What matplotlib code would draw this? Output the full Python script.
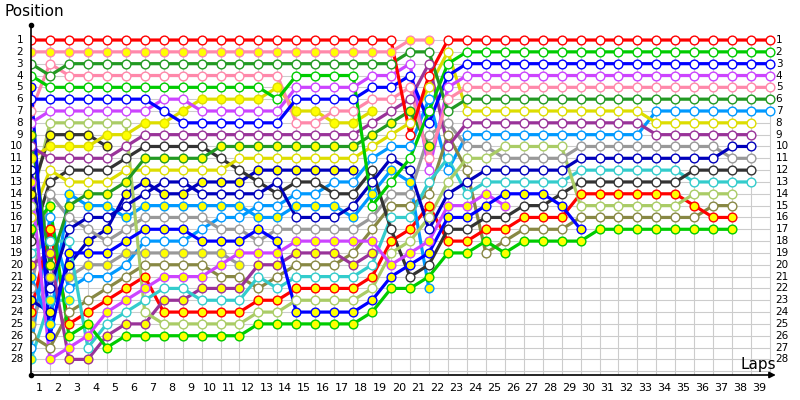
import matplotlib
matplotlib.use("Agg")
import matplotlib.pyplot as plt

# positions per lap (lap 0 = grid), series stop when the car retires / is lapped
red = [1,1,1,1,1,1,1,1,1,1, 1,1,1,1,1,1,1,1,1,1, 9,4,1,1,1,1,1,1,1,1, 1,1,1,1,1,1,1,1,1,1]
pink_y = [2,2,2,2,2,2,2,2,2,2, 2,2,2,2,2,2,2,2,2,2, 1,1]
dkgreen = [3,4,3,3,3,3,3,3,3,3, 3,3,3,3,3,3,3,3,3,3, 2,2,7,6,6,6,6,6,6,6, 6,6,6,6,6,6,6,6,6,6]
brgreen = [4,5,5,5,5,5,5,5,5,5, 5,5,5,6,4,4,4,4,15,13, 11,7,3,2,2,2,2,2,2,2, 2,2,2,2,2,2,2,2,2,2]
blue_y = [5,26,19,19,19,18,17,17,17,18, 18,18,17,18,24,24,24,24,23,21, 20,19,16,16,15,14,14,14,15,17]
blue = [6,6,6,6,6,6,6,7,8,8, 8,8,8,8,6,6,6,6,5,5, 4,8,4,3,3,3,3,3,3,3, 3,3,3,3,3,3,3,3,3,3]
pink = [7,3,4,4,4,4,4,4,4,4, 4,4,4,4,8,8,7,7,6,6, 5,11,6,5,5,5,5,5,5,5, 5,5,5,5,5,5,5,5,5,5]
violet = [8,7,7,7,7,7,7,6,6,7, 7,7,7,7,5,5,5,5,4,4, 3,12,5,4,4,4,4,4,4,4, 4,4,4,4,4,4,4,4,4,4]
dkgreen_y = [9,20,15,14,14,13,11,11,11,11, 10,10,10,10,10,10,10,10,9,8, 7,10]
purple = [10,11,11,11,11,10,9,9,9,9, 9,9,9,9,9,9,9,9,8,7, 6,3,10,8,8,8,8,8,8,8, 8,8,8,9,9,9,9,9,9]
yellow_y = [11,10,10,10,9,9,8,8,7,6, 6,6,6,5,7,7,8,8,7]
navy = [12,22,17,16,16,15,14,13,13,14, 14,14,14,13,16,16,16,15,13,11, 12,17,14,13,12,12,12,12,12,11, 11,11,11,11,11,11,11,10,10]
violet_y = [13,28,27,26,24,23,22,21,21,21, 20,19,19,19,18,18,18,18,18,20, 19,18,15,15,14,15]
dkgray_y = [14,9,9,9,10]
palegreen = [15,8,8,8,8,8,24,25,25,25, 25,25,24,24,23,23,23,23,22,19, 18,16,13,11,11,10,10,10,10,15, 15,15,15,15,15,14,14,14]
yellow = [16,12,13,13,13,12,12,12,12,12, 12,11,11,11,11,11,11,11,10,9, 8,5,2,7,7,7,7,7,7,7, 7,7,7,8,8,8,8,8,8]
brgreen_y = [17,15,26,25,27,26,26,26,26,26, 26,26,25,25,25,25,25,25,24,22, 22,21,19,19,18,19,18,18,18,18, 17,17,17,17,17,17,17,17]
dkgray = [18,13,12,12,12,11,10,10,10,10, 11,12,13,14,13,13,14,14,12,17, 21,20,17,17,16,16,15,15,14,13, 13,13,13,13,13,12,12,12,12]
teal = [19,18,18,27,25,24,23,22,22,23, 23,23,21,22,21,21,21,21,20,16, 16,13,11,14,13,13,13,13,13,12, 12,12,12,12,12,13,13,13,13]
purple_y = [20,19,28,28,26,25,25,23,23,22, 22,22,20,20,19,19,19,20,19]
ltblue_y = [21,25,14,15,15,16,15,15,15,15, 15,15,16,16,15,15,15,16,14,12, 13,22]
gray = [22,14,16,17,18,17,16,16,16,16, 17,17,18,17,17,17,17,17,16,14, 14,9,8,10,10,11,11,11,11,10, 10,10,10,10,10,10,10,11,11]
navy_y = [23,24,20,18,17,14,13,14,14,13, 13,13,12,12,12,12,12,12]
red_y = [24,17,25,24,23,22,21,24,24,24, 24,24,23,23,22,22,22,22,21,18, 17,15,18,18,17,17,16,16,16,14, 14,14,14,14,14,15,16,16]
gray_y = [25,21,21,20,20,19,19,19,19,19, 19,20]
olive = [26,27,24,23,22,21,20,20,20,20, 21,21,22,21,20,20,20,19,17,15, 15,14,9,12,19,18,17,17,17,16, 16,16,16,16,16,16,15,15]
ltblue = [27,16,22,21,21,20,18,18,18,17, 16,16,15,15,14,14,13,13,11,10, 10,6,12,9,9,9,9,9,9,9, 9,9,9,7,7,7,7,7,7,7]
teal_y = [28,23,23]

# (positions, line colour, yellow filled marker?)
series = [
    (teal_y, "#33cccc", True), (ltblue, "#0099ff", False), (olive, "#888844", False),
    (gray_y, "#999999", True), (red_y, "#ff0000", True), (navy_y, "#0000bb", True),
    (gray, "#999999", False), (ltblue_y, "#0099ff", True), (purple_y, "#993399", True),
    (teal, "#33cccc", False), (dkgray, "#333333", False), (brgreen_y, "#00cc00", True),
    (yellow, "#dddd00", False), (palegreen, "#aacc66", False), (dkgray_y, "#333333", True),
    (violet_y, "#cc44ff", True), (navy, "#0000bb", False), (yellow_y, "#dddd00", True),
    (purple, "#993399", False), (dkgreen_y, "#229922", True), (violet, "#cc44ff", False),
    (pink, "#ff88aa", False), (blue, "#0000ff", False), (blue_y, "#0000ff", True),
    (brgreen, "#00cc00", False), (dkgreen, "#229922", False), (pink_y, "#ff88aa", True),
    (red, "#ff0000", False),
]

n_laps = 39
n_pos = 28

fig = plt.figure(figsize=(8, 4), dpi=100)
ax = fig.add_axes([31/800, 25/400, 744/800, 350/400])
ax.set_xlim(0, 744/18.95)
ax.set_ylim(29.32, -0.27)
ax.axis("off")

# grid
ax.hlines(range(1, n_pos + 2), 0, n_laps, color="#cccccc", lw=0.8, zorder=0)
ax.vlines(range(1, n_laps + 1), 1, 29.32, color="#cccccc", lw=0.8, zorder=0)

for vals, col, filled in series:
    laps = list(range(len(vals)))
    ax.plot(laps, vals, "-", color=col, lw=2.3, zorder=2, solid_capstyle="round")
    ax.plot(laps, vals, "o", ms=6.3, mec=col, mew=1.0,
            mfc="#ffff00" if filled else "white", zorder=3)

# axes lines
ax.plot([0, 0], [29.32, -0.27], color="black", lw=1.2, zorder=4, clip_on=False)
ax.plot([0], [-0.27], marker="o", ms=3, color="black", clip_on=False, zorder=4)
ax.plot([0], [29.32], marker="o", ms=3, color="black", clip_on=False, zorder=4)
ax.annotate("", xy=(39.45, 29.32), xytext=(0, 29.32),
            arrowprops=dict(arrowstyle="-|>", color="black", lw=1.2,
                            mutation_scale=9),
            annotation_clip=False, zorder=4)

for p in range(1, n_pos + 1):
    ax.text(-0.42, p, str(p), ha="right", va="center", fontsize=7.5, clip_on=False)
    ax.text(39.3, p, str(p), ha="left", va="center", fontsize=7.5, clip_on=False)

for k in range(1, n_laps + 1):
    ax.text(k - 0.58, 30.45, str(k), ha="center", va="center", fontsize=8, clip_on=False)

ax.text(39.3, 29.05, "Laps", ha="right", va="bottom", fontsize=11, clip_on=False)
fig.text(4/800, 1 - 4/400, "Position", ha="left", va="top", fontsize=11)

fig.savefig("out.png", dpi=100)
